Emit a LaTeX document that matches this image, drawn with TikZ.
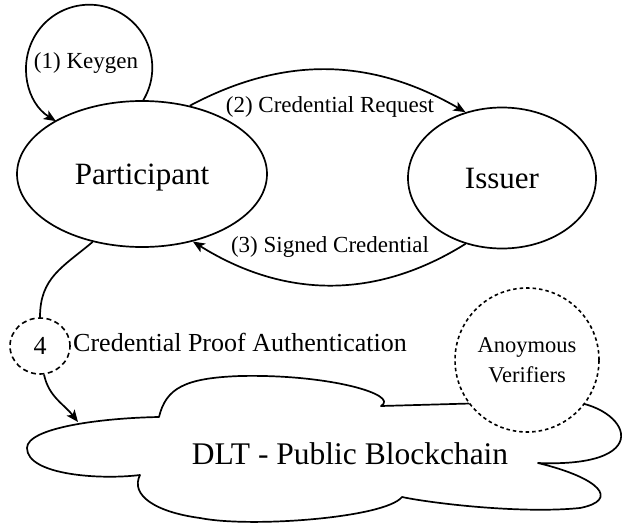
\documentclass[tikz,border=0pt]{standalone}
\usepackage{fontspec}
\setmainfont{Liberation Serif}
\usetikzlibrary{shapes.geometric,arrows.meta}
\begin{document}
\begin{tikzpicture}[x=1pt,y=1pt,line width=1.7pt,
  arr/.style={-{Stealth[length=12pt,width=10pt,inset=3pt]}},
  bignode/.style={ellipse,draw,inner sep=0pt,text depth=0pt,font=\fontsize{31}{37}\selectfont},
  lab/.style={inner sep=0pt,font=\fontsize{23}{28}\selectfont},
  midlab/.style={inner sep=0pt,font=\fontsize{26}{31}\selectfont},
  cloudline/.style={draw,fill=white,line join=round},
  dotcirc/.style={circle,draw,fill=white,line width=1.6pt,dash pattern=on 3.5pt off 3pt,inner sep=0pt,align=center,font=\fontsize{22.5}{30}\selectfont},
  dashcirc/.style={ellipse,draw,line width=1.6pt,dash pattern=on 5pt off 3.5pt,inner sep=0pt,font=\fontsize{26}{31}\selectfont}]
\useasboundingbox (0,0) rectangle (626,-525);

% nodes
\node[bignode,minimum width=250,minimum height=146] (part) at (142,-174) {Participant};
\node[bignode,minimum width=188,minimum height=141] (iss) at (502,-178) {Issuer};
\node[dashcirc,minimum width=60,minimum height=56] (c4) at (40,-346) {4};

% cloud (DLT)
\path[cloudline]
  (159,-417) .. controls (166,-388) and (185,-378) .. (240,-376)
  .. controls (330,-374) and (400,-395) .. (381,-406)
  -- (560,-401)
  .. controls (625,-400) and (665,-468) .. (538,-463)
  .. controls (600,-478) and (620,-500) .. (580,-508)
  .. controls (520,-514) and (430,-503) .. (402,-497)
  .. controls (385,-518) and (250,-528) .. (200,-518)
  .. controls (155,-512) and (130,-495) .. (140,-475)
  .. controls (100,-480) and (27,-475) .. (27,-448)
  .. controls (27,-428) and (100,-418) .. (159,-417) -- cycle;
\node[inner sep=0pt,font=\fontsize{31.5}{37}\selectfont] (dlt) at (350,-454) {DLT - Public Blockchain};
\coordinate (cl) at (78,-422);

\node[dotcirc,minimum size=144] (ver) at (527,-360) {Anoymous\\Verifiers};

% labels
\node[lab] (l1) at (86,-63.5) {(1) Keygen};
\node[lab] (l2) at (330,-107) {(2) Credential Request};
\node[lab] (l3) at (330,-246.5) {(3) Signed Credential};
\node[midlab] (l4) at (240,-342) {Credential Proof Authentication};

% connectors
\draw[arr] (part.89) arc[start angle=-31,end angle=238,radius=63];
\draw[arr] (part.55) to[out=28,in=150] (iss.119);
\draw[arr] (iss.241) to[out=212,in=328] (part.307);
\draw (part.234) to[out=220,in=90,looseness=1.1] (c4.north);
\draw[arr] (c4.-82) to[out=-78,in=128] (cl);
\end{tikzpicture}
\end{document}
